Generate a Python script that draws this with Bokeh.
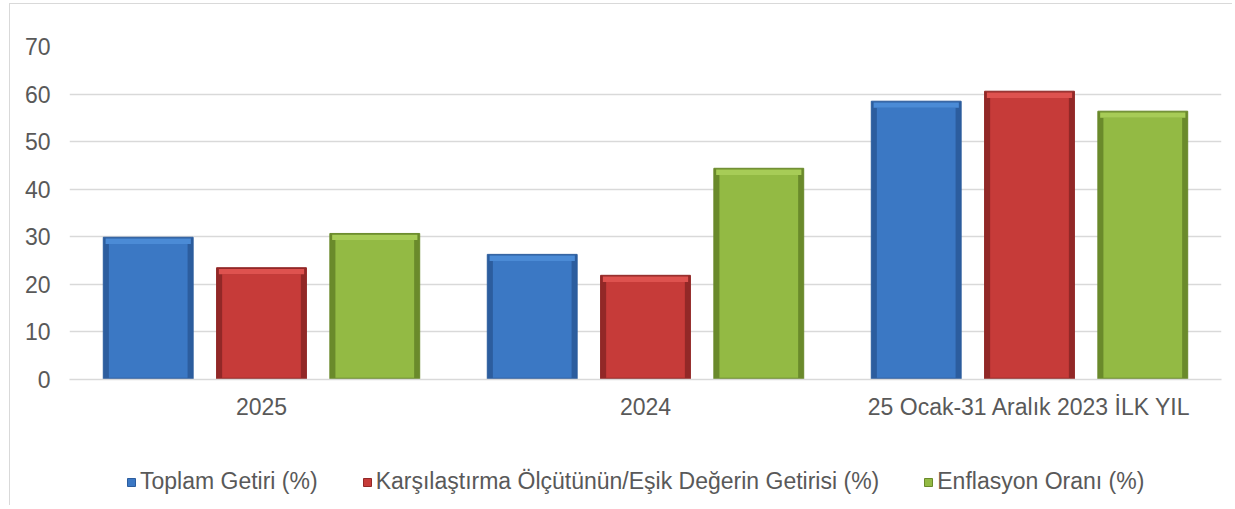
from bokeh.plotting import figure
from bokeh.models import FactorRange, ColumnDataSource, Legend, LegendItem
from bokeh.layouts import column
from bokeh.transform import dodge
from bokeh.embed import file_html
from bokeh.resources import INLINE

categories = ["2025", "2024", "25 Ocak-31 Aralık 2023 İLK YIL"]
series_names = ["Toplam Getiri (%)",
                "Karşılaştırma Ölçütünün/Eşik Değerin Getirisi (%)",
                "Enflasyon Oranı (%)"]
toplam = [29.9, 26.3, 58.5]
karsilastirma = [23.5, 21.9, 60.6]
enflasyon = [30.7, 44.4, 56.4]
y_ticks = [0, 10, 20, 30, 40, 50, 60, 70]

FONT = "Liberation Sans"
TXT = "#595959"
FS = "23px"

src = ColumnDataSource(dict(cat=categories, s0=toplam, s1=karsilastirma, s2=enflasyon))

p = figure(x_range=FactorRange(*categories, range_padding=0), y_range=(0, 70),
           width=1222, height=421, output_backend="svg", toolbar_location=None,
           min_border_left=59, min_border_right=11, min_border_top=42, min_border_bottom=46)

styles = [
    ("s0", -0.295, "#2c5d9e", "#3b78c4", "#4b8bd6"),
    ("s1", 0.0, "#922827", "#c63b39", "#de524f"),
    ("s2", 0.295, "#6a8a2b", "#93ba44", "#a7cc57"),
]
for (col, off, edge, body, top) in styles:
    x = dodge("cat", off, range=p.x_range)
    p.vbar(x=x, top=col, width=0.234, source=src, fill_color=edge,
           line_color=edge, line_width=1)
    src.data[col + "_in"] = [v - 1.4 for v in src.data[col]]
    p.vbar(x=x, top=col + "_in", bottom=0.35, width=0.205, source=src,
           fill_color=body, line_color=None)
    src.data[col + "_hi"] = [v - 0.25 for v in src.data[col]]
    p.vbar(x=x, top=col + "_hi", bottom=col + "_in", width=0.222, source=src,
           fill_color=top, line_color=None)

p.yaxis.ticker = y_ticks
p.yaxis.axis_line_color = None
p.yaxis.major_tick_line_color = None
p.yaxis.minor_tick_line_color = None
p.yaxis.major_label_standoff = 13
p.yaxis.major_label_text_font = FONT
p.yaxis.major_label_text_font_size = FS
p.yaxis.major_label_text_color = TXT

p.xaxis.axis_line_color = "#d9d9d9"
p.xaxis.axis_line_width = 1.5
p.xaxis.major_tick_line_color = None
p.xaxis.minor_tick_line_color = None
p.xaxis.major_label_standoff = 8
p.xaxis.major_label_text_font = FONT
p.xaxis.major_label_text_font_size = FS
p.xaxis.major_label_text_color = TXT

p.xgrid.grid_line_color = None
p.ygrid.grid_line_color = "#d9d9d9"
p.ygrid.grid_line_width = 1.5
p.outline_line_color = None

# legend strip beneath the chart (proxy glyphs sit outside the visible range)
lg = figure(width=1222, height=80, output_backend="svg", toolbar_location=None,
            x_range=(0, 1), y_range=(0, 1), min_border=0,
            min_border_left=0, min_border_right=0, min_border_top=0, min_border_bottom=0)
lg.axis.visible = False
lg.grid.visible = False
lg.outline_line_color = None
items = []
for (col, off, edge, body, top), name in zip(styles, series_names):
    r = lg.vbar(x=[-5], top=[-5], bottom=[-6], width=0.1,
                fill_color=body, line_color=edge, line_width=1)
    items.append(LegendItem(label=name, renderers=[r]))
legend = Legend(items=items, orientation="horizontal", location=(57, 10),
                glyph_width=10, glyph_height=10, label_standoff=4, spacing=44,
                padding=0, margin=0, border_line_color=None, background_fill_alpha=0,
                label_text_font=FONT, label_text_font_size=FS, label_text_color=TXT)
lg.add_layout(legend, "center")

layout = column(p, lg, spacing=0)
layout.styles = {"margin-left": "9px", "margin-top": "3px",
                 "border-left": "1px solid #d9d9d9", "border-top": "1px solid #d9d9d9"}
open("out.html", "w").write(file_html(layout, INLINE))
